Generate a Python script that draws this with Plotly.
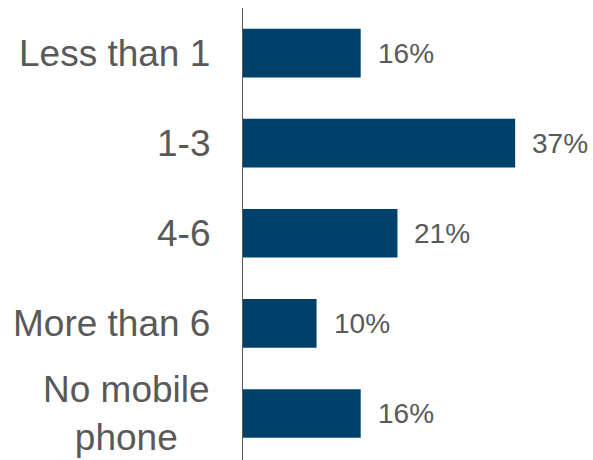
import plotly.graph_objects as go

categories = ["Less than 1", "1-3", "4-6", "More than 6", "No mobile<br>phone"]
values = [16, 37, 21, 10, 16]
value_labels = ["16%", "37%", "21%", "10%", "16%"]

bar_color = "#00416B"
text_color = "#595959"
font_family = "Liberation Sans, Arial"

fig = go.Figure()
fig.add_trace(go.Bar(
    x=values, y=categories, orientation="h",
    marker=dict(color=bar_color, line=dict(width=0)),
    hoverinfo="skip",
))

for v, c, t in zip(values, categories, value_labels):
    fig.add_annotation(x=v, y=c, text=t, showarrow=False, xanchor="left",
                       xshift=15, font=dict(family=font_family, size=28, color=text_color))

for c in categories:
    fig.add_annotation(x=0, xref="paper", y=c, yref="y", text=c, showarrow=False,
                       xanchor="right", align="center", xshift=-31,
                       font=dict(family=font_family, size=37, color=text_color))

fig.update_layout(
    width=593, height=460,
    margin=dict(l=243, r=5, t=8, b=0),
    paper_bgcolor="white", plot_bgcolor="white",
    bargap=0.46,
    showlegend=False,
    font=dict(family=font_family, color=text_color),
)
fig.update_xaxes(range=[0, 46.9], visible=False, fixedrange=True)
fig.update_yaxes(
    autorange="reversed", automargin=False,
    showline=True, linecolor="#595959", linewidth=1,
    showgrid=False, zeroline=False, showticklabels=False, ticks="",
    fixedrange=True,
)

fig.write_html("out.html", config={"displayModeBar": False},
               post_script="document.body.style.margin='0';document.body.style.overflow='hidden';")
